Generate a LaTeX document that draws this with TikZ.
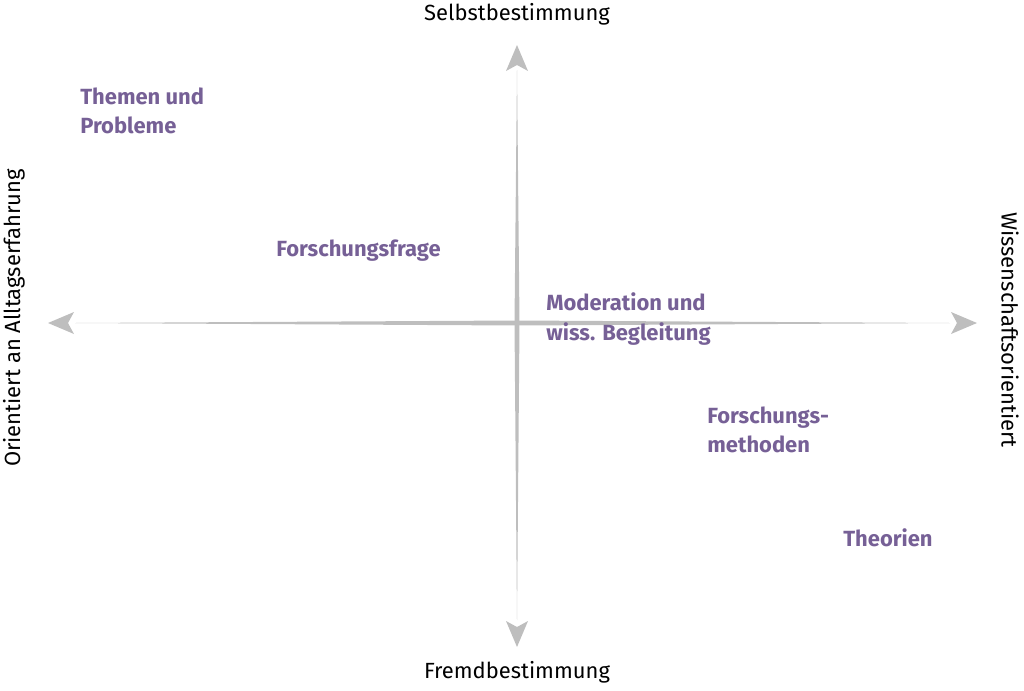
\documentclass[tikz,border=0pt]{standalone}
\usepackage{fontspec}
\setmainfont{Fira Sans}
\usetikzlibrary{positioning}
\definecolor{lila}{RGB}{118,96,150}
\definecolor{achse}{RGB}{190,190,190}
\tikzset{
  topic/.style={text=lila, font=\bfseries\fontsize{12.5}{17}\selectfont, align=left, anchor=north west, inner sep=0pt},
  pole/.style={font=\fontsize{12.5}{15}\selectfont, inner sep=0pt},
  tip/.style={fill=achse, draw=none}
}
\begin{document}
\begin{tikzpicture}[x=0.02cm,y=-0.02cm]
\useasboundingbox (0,0) rectangle (1024,690);

% tapered axes
\fill [achse] (75,323) -- (517,320.5) -- (950,323) -- (517,325.5) -- cycle;
\fill [achse] (517,70) -- (519.5,323) -- (517,620) -- (514.5,323) -- cycle;

% arrow tips
\fill [tip] (48,323) -- (74,312) -- (68,323) -- (74,334) -- cycle;
\fill [tip] (977,323) -- (951,312) -- (957,323) -- (951,334) -- cycle;
\fill [tip] (517,45) -- (506,71) -- (517,65) -- (528,71) -- cycle;
\fill [tip] (517,647) -- (506,621) -- (517,627) -- (528,621) -- cycle;

% poles
\node [pole] (oben) at (517,14) {Selbstbestimmung};
\node [pole] (unten) at (517,672) {Fremdbestimmung};
\node [pole, rotate=90] (links) at (14,318) {Orientiert an Alltagserfahrung};
\node [pole, rotate=-90] (rechts) at (1010,330) {Wissenschaftsorientiert};

% topics
\node [topic] (themen) at (80,87) {Themen und\\Probleme};
\node [topic] (frage) at (276,239) {Forschungsfrage};
\node [topic] (moderation) at (546,292) {Moderation und\\wiss. Begleitung};
\node [topic] (methoden) at (707,406) {Forschungs-\\methoden};
\node [topic] (theorien) at (843,528) {Theorien};
\end{tikzpicture}
\end{document}
